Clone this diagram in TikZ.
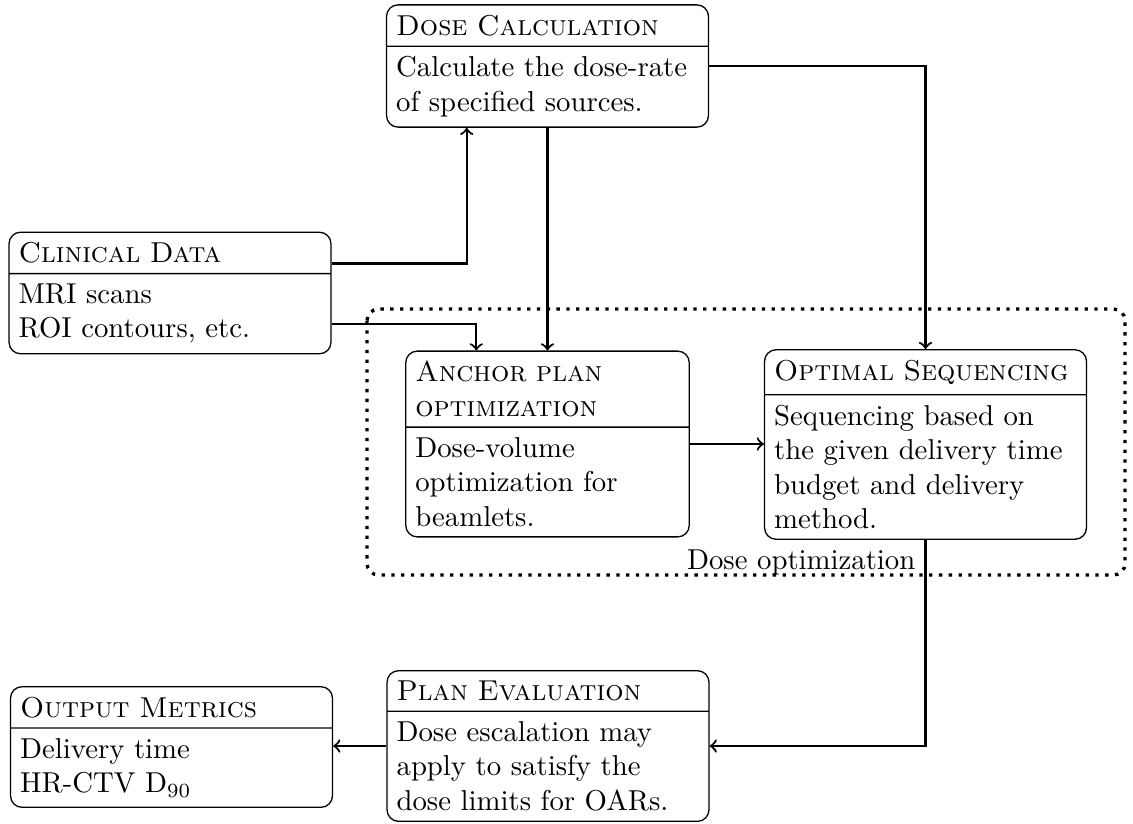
\documentclass[tikz,border=0pt]{standalone}
\usetikzlibrary{shapes.multipart,calc}
\tikzset{
  box/.style={rectangle split, rectangle split parts=2, draw, line width=0.45pt,
    rounded corners=4pt, text width=3.7cm, align=left},
  conn/.style={->, line width=0.75pt},
  dotbox/.style={line width=1.15pt, dash pattern=on 1.15pt off 2.25pt, rounded corners=4pt}
}
\begin{document}
\begin{tikzpicture}[x=0.3477pt,y=-0.3477pt]
\useasboundingbox (0,0) rectangle (1133,823);
\draw[dotbox] (367,309) rectangle (1125,575);
\node[box] (dose) at (547.5,66) {\textsc{Dose Calculation}\nodepart{two}Calculate the dose-rate\\of specified sources.};
\node[box] (clin) at (170,293) {\textsc{Clinical Data}\nodepart{two}MRI scans\\ROI contours, etc.};
\node[box, text width=3.23cm] (anchor) at (547.5,444) {\textsc{Anchor plan}\\\textsc{optimization}\nodepart{two}Dose-volume\\optimization for\\beamlets.};
\node[box] (opt) at (925.5,444.5) {\textsc{Optimal Sequencing}\nodepart{two}Sequencing based on\\the given delivery time\\budget and delivery\\method.};
\node[box] (plan) at (548,746) {\textsc{Plan Evaluation}\nodepart{two}Dose escalation may\\apply to satisfy the\\dose limits for OARs.};
\node[box] (out) at (171.5,747) {\textsc{Output Metrics}\nodepart{two}Delivery time\\HR-CTV D$_{90}$};
\node[anchor=north east] (lbl) at (opt.south) {Dose optimization};
\coordinate (dq) at ($(dose.south west)!0.25!(dose.south east)$);
\coordinate (aq) at ($(anchor.north west)!0.25!(anchor.north east)$);
\coordinate (cq) at ($(clin.south east)!0.25!(clin.north east)$);
\coordinate (ct) at ([yshift=3.5pt]clin.text split east);
\draw[conn] (ct) -| (dq);
\draw[conn] (cq) -| (aq);
\draw[conn] (dose.south) -- (dose.south |- anchor.north);
\draw[conn] (dose.east) -| (opt.north);
\draw[conn] (anchor.east) -- (anchor.east -| opt.west);
\draw[conn] (opt.south) |- (plan.east);
\draw[conn] (plan.west) -- (plan.west -| out.east);
\end{tikzpicture}
\end{document}
